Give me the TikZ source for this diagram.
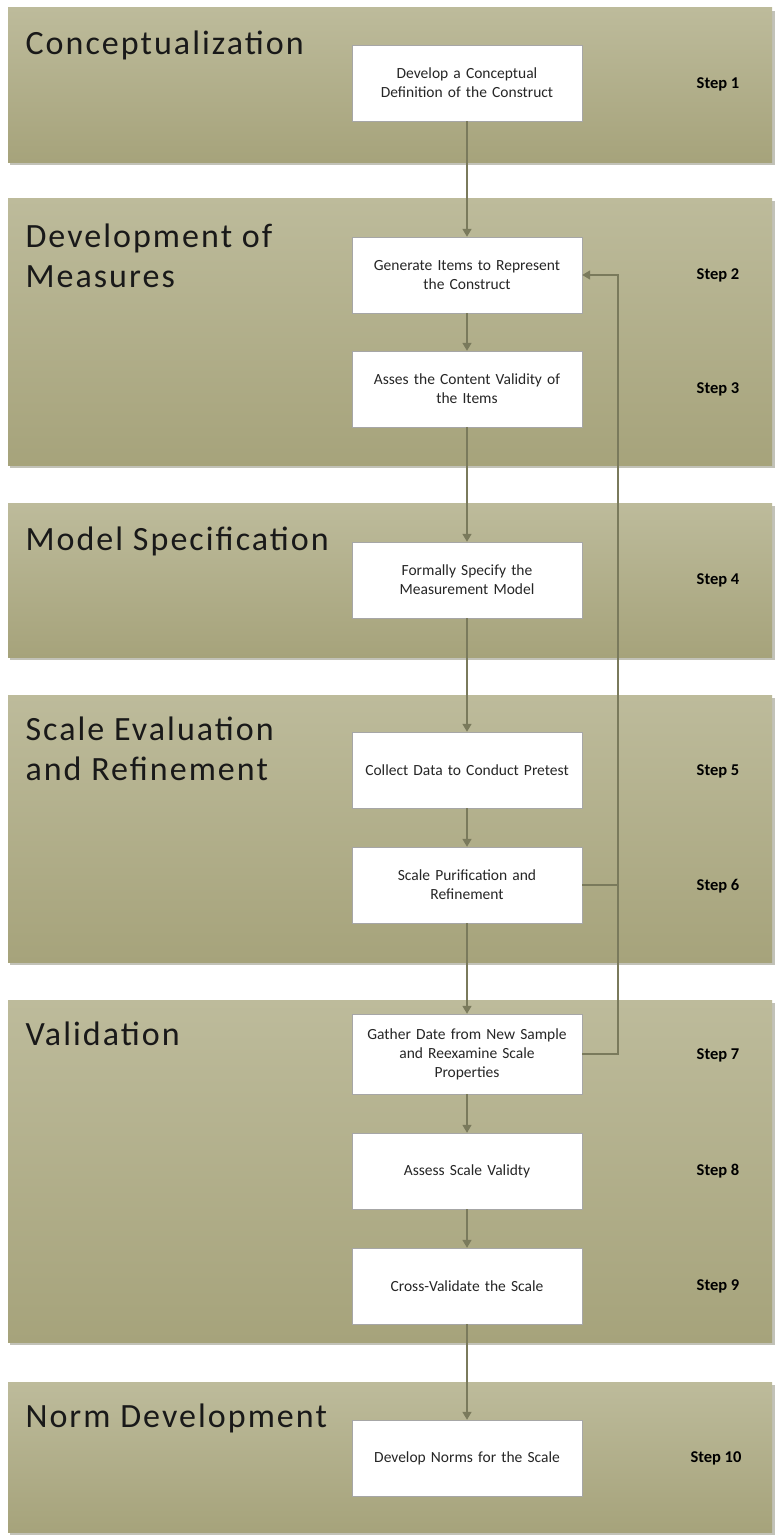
\documentclass[tikz,border=0pt]{standalone}
\usepackage{fontspec}
\setmainfont{Carlito}
\usetikzlibrary{arrows.meta}
\definecolor{bandtop}{HTML}{BDBB9B}
\definecolor{bandbot}{HTML}{A6A37B}
\definecolor{linec}{HTML}{7A7A5C}
\definecolor{shad}{HTML}{9A9A8A}
\tikzset{
  band/.style={top color=bandtop, bottom color=bandbot, draw=none},
  bandshadow/.style={fill=shad, draw=none, opacity=0.6},
  stepbox/.style={draw=gray!70, fill=white, minimum width=230pt, minimum height=76pt, align=center, font=\fontsize{15.5}{19}\selectfont, text=black!85, text width=215pt, inner sep=0pt},
  title/.style={anchor=north west, align=left, font=\fontsize{34}{40}\selectfont\addfontfeatures{LetterSpace=6}, text=black!90},
  steplab/.style={font=\bfseries\fontsize{16.5}{19}\selectfont},
  conn/.style={draw=linec, line width=1.5pt, -{Triangle[width=9pt,length=8pt]}},
  plain/.style={draw=linec, line width=1.5pt}
}
\begin{document}
\begin{tikzpicture}[x=1pt,y=-1pt]
\useasboundingbox (0,0) rectangle (775,1536);
\fill[white] (0,0) rectangle (775,1536);
% bands with shadows
\foreach \t/\b in {8/162, 198/465, 503/657, 695/962, 1000/1342, 1382/1532}{
  \fill[bandshadow] (10,\t+3) rectangle (775,\b+3);
  \shade[band] (8,\t) rectangle (772,\b);
}
% titles
\node[title] (t1) at (22,27) {Conceptualization};
\node[title] (t2) at (22,220) {Development of\\Measures};
\node[title] (t3) at (22,523) {Model Specification};
\node[title] (t4) at (22,713) {Scale Evaluation\\and Refinement};
\node[title] (t5) at (22,1018) {Validation};
\node[title] (t6) at (22,1400) {Norm Development};
% boxes
\node[stepbox] (b1) at (467,83) {Develop a Conceptual\\Definition of the Construct};
\node[stepbox] (b2) at (467,275) {Generate Items to Represent\\the Construct};
\node[stepbox] (b3) at (467,389) {Asses the Content Validity of\\the Items};
\node[stepbox] (b4) at (467,580) {Formally Specify the\\Measurement Model};
\node[stepbox] (b5) at (467,770) {Collect Data to Conduct Pretest};
\node[stepbox] (b6) at (467,885) {Scale Purification and\\Refinement};
\node[stepbox, minimum height=80pt] (b7) at (467,1054) {Gather Date from New Sample\\and Reexamine Scale\\Properties};
\node[stepbox] (b8) at (467,1171) {Assess Scale Validty};
\node[stepbox] (b9) at (467,1286) {Cross-Validate the Scale};
\node[stepbox] (b10) at (467,1458) {Develop Norms for the Scale};
% step labels
\node[steplab] (s1) at (718,84) {Step 1};
\node[steplab] (s2) at (718,275) {Step 2};
\node[steplab] (s3) at (718,389) {Step 3};
\node[steplab] (s4) at (718,580) {Step 4};
\node[steplab] (s5) at (718,771) {Step 5};
\node[steplab] (s6) at (718,886) {Step 6};
\node[steplab] (s7) at (718,1055) {Step 7};
\node[steplab] (s8) at (718,1171) {Step 8};
\node[steplab] (s9) at (718,1286) {Step 9};
\node[steplab] (s10) at (716,1458) {Step 10};
% connectors
\draw[conn] (b1) -- (b2);
\draw[conn] (b2) -- (b3);
\draw[conn] (b3) -- (b4);
\draw[conn] (b4) -- (b5);
\draw[conn] (b5) -- (b6);
\draw[conn] (b6) -- (b7);
\draw[conn] (b7) -- (b8);
\draw[conn] (b8) -- (b9);
\draw[conn] (b9) -- (b10);
% feedback
\coordinate (fb) at (618,0);
\draw[conn] (b7.east) -- (b7.east -| fb) -- (b2.east -| fb) -- (b2.east);
\draw[plain] (b6.east) -- (b6.east -| fb);
\end{tikzpicture}
\end{document}
